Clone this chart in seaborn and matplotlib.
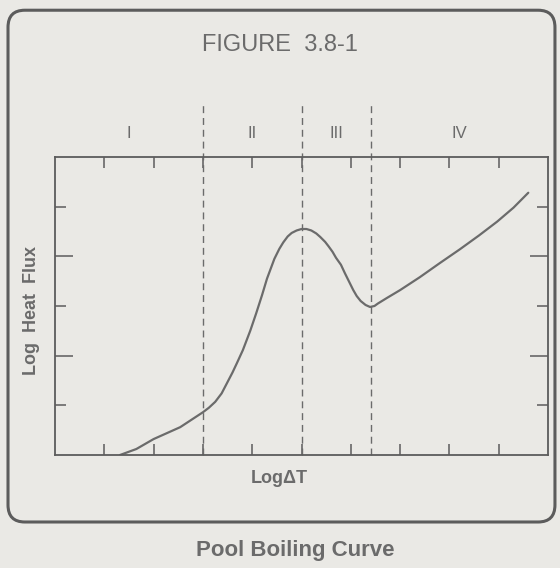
import matplotlib
matplotlib.use("Agg")
import matplotlib.pyplot as plt
from matplotlib.patches import FancyBboxPatch
from matplotlib.ticker import FixedLocator
import seaborn as sns
import pandas as pd

# Pool boiling curve, read as (log dT, log heat flux) pairs
log_delta_t = [1.32, 1.65, 2.0, 2.54, 3.0, 3.12, 3.25, 3.38, 3.49, 3.6, 3.69,
               3.81, 3.96, 4.08, 4.2, 4.3, 4.45, 4.55, 4.63, 4.72, 4.8, 4.9,
               5.0, 5.1, 5.2, 5.3, 5.38, 5.48, 5.55, 5.63, 5.7, 5.8, 5.88,
               5.96, 6.05, 6.12, 6.2, 6.3, 6.39, 6.48, 6.55, 6.73, 7.0, 7.4,
               7.8, 8.21, 8.6, 8.97, 9.3, 9.6]
log_heat_flux = [0.0, 0.12, 0.32, 0.56, 0.86, 0.95, 1.07, 1.24, 1.45, 1.66,
                 1.85, 2.11, 2.5, 2.85, 3.22, 3.55, 3.95, 4.15, 4.28, 4.4,
                 4.47, 4.52, 4.55, 4.55, 4.52, 4.46, 4.39, 4.29, 4.2, 4.09,
                 3.97, 3.83, 3.66, 3.5, 3.32, 3.2, 3.1, 3.02, 2.98, 3.0, 3.05,
                 3.16, 3.32, 3.58, 3.86, 4.14, 4.42, 4.7, 4.98, 5.28]

# Boiling regime boundaries and names
regime_bounds = [3.0, 5.0, 6.4]
regime_names = ["I", "II", "III", "IV"]

x_ticks = [1, 2, 3, 4, 5, 6, 7, 8, 9]
y_major_ticks = [2, 4]
y_minor_ticks = [1, 3, 5]

curve = pd.DataFrame({"log_dt": log_delta_t, "log_q": log_heat_flux})

sns.set_style("white")
plt.rcParams["font.family"] = ["Liberation Sans", "DejaVu Sans"]

paper = "#eae9e5"
ink = "#6b6b6b"
dark = "#5c5c5c"

fig = plt.figure(figsize=(5.6, 5.68), dpi=100)
fig.patch.set_facecolor(paper)

# rounded frame around the figure panel
frame = FancyBboxPatch((0.0143, 0.081), 0.9767, 0.901,
                       boxstyle="round,pad=0,rounding_size=0.03",
                       transform=fig.transFigure, fill=False,
                       edgecolor=dark, linewidth=2.2, zorder=0)
fig.patches.append(frame)

ax = fig.add_axes([0.0982, 0.199, 0.8804, 0.5246])
ax.set_facecolor(paper)

sns.lineplot(data=curve, x="log_dt", y="log_q", ax=ax, color=ink,
             linewidth=1.6, estimator=None, sort=False)

ax.set_xlim(0, 10)
ax.set_ylim(0, 6)

# regime boundaries, running up past the top of the plot box
for xb in regime_bounds:
    ax.axvline(xb, ymin=0, ymax=1.175, color=ink, linewidth=1.0,
               linestyle=(0, (5, 3.5)), clip_on=False, zorder=1)

# regime labels centred in each band
edges = [0] + regime_bounds + [10]
for name, lo, hi in zip(regime_names, edges[:-1], edges[1:]):
    ax.text((lo + hi) / 2, 1.08, name, transform=ax.get_xaxis_transform(),
            ha="center", va="center", fontsize=12, color=ink)

for side in ax.spines.values():
    side.set_color(dark)
    side.set_linewidth(1.3)

ax.xaxis.set_major_locator(FixedLocator(x_ticks))
ax.yaxis.set_major_locator(FixedLocator(y_major_ticks))
ax.yaxis.set_minor_locator(FixedLocator(y_minor_ticks))
ax.tick_params(axis="both", which="both", direction="in", top=True,
               bottom=True, left=True, right=True, color=dark, width=1.1,
               labelbottom=False, labelleft=False)
ax.tick_params(axis="x", which="major", length=8)
ax.tick_params(axis="y", which="major", length=13)
ax.tick_params(axis="y", which="minor", length=8)

ax.set_xlabel("")
ax.set_ylabel("")

fig.text(0.498, 0.158, "Log\u0394T", ha="center", va="center",
         fontsize=13, fontweight="bold", color=ink)
fig.text(0.057, 0.454, "Log  Heat  Flux", ha="center", va="center",
         rotation=90, fontsize=13, fontweight="bold", color=ink)
fig.text(0.5, 0.921, "FIGURE  3.8-1", ha="center", va="center",
         fontsize=17, color=ink)
fig.text(0.528, 0.030, "Pool Boiling Curve", ha="center", va="center",
         fontsize=16, fontweight="bold", color=ink)

fig.savefig("out.png", dpi=100, facecolor=paper)
